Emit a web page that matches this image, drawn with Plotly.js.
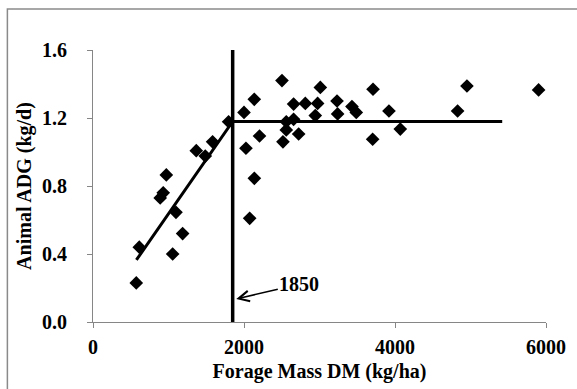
<!DOCTYPE html>
<html>
<head>
<meta charset="utf-8">
<script src="https://cdn.plot.ly/plotly-3.0.1.min.js"></script>
<style>html,body{margin:0;padding:0;background:#fff;}#chart{width:577px;height:389px;}</style>
</head>
<body>
<div id="chart"></div>
<script>
// Observed data: forage mass (kg/ha) vs animal ADG (kg/d)
const forageMass = [573, 613, 890, 930, 971, 1055, 1099, 1187, 1368, 1487, 1584, 1796,
  2000, 2026, 2075, 2137, 2136, 2205, 2503, 2516, 2560, 2560, 2657, 2657, 2724, 2812,
  2944, 2975, 3011, 3232, 3240, 3430, 3487, 3704, 3709, 3920, 4070, 4829, 4953, 5902];
const adg = [0.23, 0.44, 0.73, 0.76, 0.865, 0.40, 0.645, 0.52, 1.008, 0.976, 1.06, 1.178,
  1.233, 1.022, 0.61, 0.845, 1.31, 1.094, 1.42, 1.06, 1.13, 1.178, 1.192, 1.282, 1.106, 1.286,
  1.214, 1.286, 1.38, 1.30, 1.224, 1.267, 1.233, 1.075, 1.369, 1.241, 1.135, 1.241, 1.388, 1.365];

// Broken-stick fit
const fitX = [575, 1850, 5420];
const fitY = [0.365, 1.18, 1.18];

// Breakpoint line
const breakX = [1850, 1850];
const breakY = [0, 1.6];
const breakLabel = "1850";

const xTicks = [0, 2000, 4000, 6000];
const xTickText = ["0", "2000", "4000", "6000"];
const yTicks = [0.0, 0.4, 0.8, 1.2, 1.6];
const yTickText = ["0.0", "0.4", "0.8", "1.2", "1.6"];

const boldFont = {family: "'Liberation Serif', 'Times New Roman', serif", size: 20, color: "#000", weight: 700};
const b = s => "<b>" + s + "</b>";

const traces = [
  {x: breakX, y: breakY, mode: "lines", line: {color: "#000", width: 3.5}, hoverinfo: "skip", cliponaxis: false},
  {x: fitX, y: fitY, mode: "lines", line: {color: "#000", width: 3}, hoverinfo: "skip"},
  {x: forageMass, y: adg, mode: "markers", marker: {symbol: "diamond", size: 10.5, color: "#000"}, cliponaxis: false}
];

const layout = {
  width: 577, height: 389,
  margin: {l: 93, r: 31, t: 50, b: 67},
  paper_bgcolor: "#fff", plot_bgcolor: "#fff",
  showlegend: false,
  font: boldFont,
  xaxis: {
    range: [0, 6000], tickvals: xTicks, ticktext: xTickText.map(b),
    showgrid: false, zeroline: false, showline: true, linecolor: "#868686", linewidth: 1,
    ticks: "outside", ticklen: 5, tickcolor: "#868686", tickwidth: 1,
    tickfont: boldFont, ticklabelstandoff: 2,
    title: {text: b("Forage Mass DM (kg/ha)"), font: boldFont, standoff: 6}
  },
  yaxis: {
    range: [0, 1.6], tickvals: yTicks, ticktext: yTickText.map(b),
    showgrid: false, zeroline: false, showline: true, linecolor: "#868686", linewidth: 1,
    ticks: "outside", ticklen: 5, tickcolor: "#868686", tickwidth: 1,
    tickfont: boldFont, ticklabelstandoff: 16,
    title: {text: b("Animal ADG (kg/d)"), font: boldFont, standoff: 5}
  },
  shapes: [
    {type: "rect", xref: "paper", yref: "paper", x0: -0.189, x1: 1.6, y0: -0.7, y1: 1.151,
     line: {color: "#8a8a8a", width: 1.5}, fillcolor: "rgba(0,0,0,0)", layer: "below"}
  ],
  annotations: [
    {x: 1898, y: 0.135, xref: "x", yref: "y", text: b(breakLabel),
     showarrow: true, arrowhead: 5, arrowsize: 1.4, arrowwidth: 1.5, arrowcolor: "#000",
     ax: 63, ay: -15, font: boldFont}
  ]
};

Plotly.newPlot("chart", traces, layout, {displayModeBar: false, staticPlot: true});
</script>
</body>
</html>
